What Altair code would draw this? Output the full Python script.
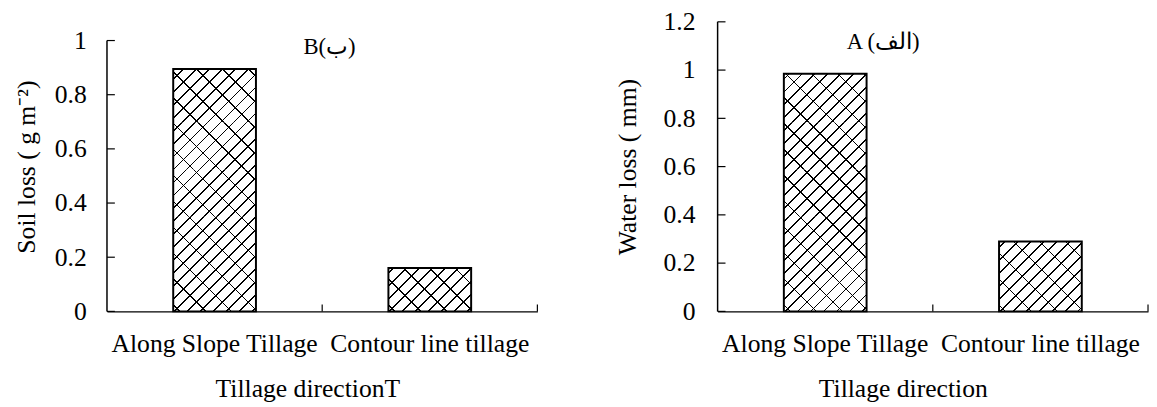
import math
import altair as alt
import pandas as pd

FONT = "'Liberation Serif', 'Times New Roman', serif"

categories = ["Along Slope Tillage", "Contour line tillage"]
soil_loss = [0.895, 0.16]
water_loss = [0.985, 0.29]
soil_ticks = [0, 0.2, 0.4, 0.6, 0.8, 1]
water_ticks = [0, 0.2, 0.4, 0.6, 0.8, 1, 1.2]

PLOT_W = 437
PLOT_H = 294
BAR_W = 84
SEG = 48                    # hatch painted in slices of this many pixels
P1 = 9.3 * math.sqrt(2)     # "/" line period along x+y (px)
P2 = 18.6 * math.sqrt(2)    # "\" line period along x+y (px)


def stripes(w, h, period, lw, direction, fg, bg, phase_px):
    """Linear gradient drawing 45-degree lines across a w x h box."""
    k = (w + h) / (w * w + h * h)
    if direction == "/":
        x1, y1, x2, y2 = 0, 0, k * w, k * h
    else:
        x1, y1, x2, y2 = 0, 1, k * w, 1 - k * h
    total = w + h
    lwt = lw * math.sqrt(2)
    stops = [{"offset": 0, "color": bg}]
    s = (phase_px % period) - period
    last = 0.0
    while s < total:
        a = max(s, 0.0) / total
        b = min(s + lwt, total) / total
        if b > 0 and b > a:
            a = round(max(a, last), 5)
            b = round(b, 5)
            stops += [
                {"offset": a, "color": bg},
                {"offset": a, "color": fg},
                {"offset": b, "color": fg},
                {"offset": b, "color": bg},
            ]
            last = b
        s += period
    stops.append({"offset": 1, "color": bg})
    return {"gradient": "linear", "x1": x1, "y1": y1, "x2": round(x2, 5),
            "y2": round(y2, 5), "stops": stops}


def panel(values, ticks, y_top, ppu, y_title, x_title, label, label_x,
          label_y, label_pad, y_title_pad, x_title_x):
    df = pd.DataFrame({"cat": categories, "val": values})
    tdf = pd.DataFrame({"v": ticks})
    y_scale = alt.Scale(domain=[0, y_top], nice=False, zero=True)
    x_scale = alt.Scale(paddingInner=0, paddingOuter=0)
    x_axis = alt.Axis(title=x_title, labelAngle=0, ticks=False, tickSize=0,
                      labelPadding=20, labelOverlap=False, labelLimit=0,
                      titlePadding=19, titleX=x_title_x, grid=False)
    y_axis = alt.Axis(title=y_title, values=ticks, format="~g", domain=False,
                      ticks=False, tickSize=0, grid=False,
                      labelPadding=label_pad, titlePadding=y_title_pad)
    x_enc = alt.X("cat:N", sort=categories, scale=x_scale, axis=x_axis)
    y_enc = alt.Y("val:Q", scale=y_scale, axis=y_axis)

    layers = []
    for cat, val in zip(categories, values):
        top_px = val * ppu
        bounds = []
        b = 0.0
        while b < top_px - 0.5:
            bounds.append((b, min(b + SEG, top_px)))
            b += SEG
        for b0, b1 in bounds:
            h = b1 - b0
            g1 = stripes(BAR_W, h, P1, 1.3, "/", "#000000", "#ffffff", b1)
            g2 = stripes(BAR_W, h, P2, 1.0, "\\", "#000000",
                         "rgba(255,255,255,0)", -b0 + 6)
            sub = (
                alt.Chart(df)
                .transform_filter(alt.datum.cat == cat)
                .transform_calculate(lo=f"{b0 / ppu}",
                                     hi=f"min(datum.val, {b1 / ppu})")
            )
            for g in (g1, g2):
                layers.append(
                    sub.mark_bar(size=BAR_W, fill=g).encode(
                        x=x_enc,
                        y=alt.Y("lo:Q", scale=y_scale, axis=y_axis),
                        y2="hi:Q",
                    )
                )
    # bar outlines
    layers.append(
        alt.Chart(df).mark_bar(size=BAR_W, fill="transparent", stroke="black",
                               strokeWidth=2).encode(x=x_enc, y=y_enc)
    )
    # y axis line from the lowest to the highest tick value
    layers.append(
        alt.Chart(tdf).mark_rule(color="black", strokeWidth=1.5).encode(
            y=alt.Y("min(v):Q", scale=y_scale, axis=y_axis),
            y2=alt.Y2("max(v)"),
            x=alt.value(0),
        )
    )
    # inward y ticks
    layers.append(
        alt.Chart(tdf).mark_rule(color="black", strokeWidth=1.2).encode(
            y=alt.Y("v:Q", scale=y_scale, axis=y_axis),
            x=alt.value(0),
            x2=alt.value(8),
        )
    )
    # inward x ticks at the category boundaries
    layers.append(
        alt.Chart(df).mark_rule(color="black", strokeWidth=1.2).encode(
            x=alt.X("cat:N", sort=categories, scale=x_scale, axis=x_axis,
                    bandPosition=1),
            y=alt.value(PLOT_H),
            y2=alt.value(PLOT_H - 7),
        )
    )
    # panel label inside the plot
    layers.append(
        alt.Chart(pd.DataFrame({"t": [label]})).mark_text(
            font=FONT, fontSize=23, color="black", align="center",
            baseline="alphabetic",
        ).encode(text="t:N", x=alt.value(label_x), y=alt.value(label_y))
    )
    return alt.layer(*layers).properties(width=PLOT_W, height=PLOT_H)


left = panel(soil_loss, soil_ticks, PLOT_H / 275.0, 275.0,
             "Soil loss ( g m\u207b\u00b2)", "Tillage directionT",
             "B(\u0628)", 226, 33, 21, 15, 203.5)
right = panel(water_loss, water_ticks, 1.2, 245.0,
              "Water loss ( mm)", "Tillage direction",
              "A (\u0627\u0644\u0641)", 168, 28, 23, 22.5, 188)

chart = (
    alt.hconcat(left, right, spacing=183, bounds="flush")
    .properties(padding={"left": 5.5, "top": -2, "right": 0, "bottom": 0})
    .configure_view(stroke=None)
    .configure_axis(labelFont=FONT, titleFont=FONT, labelFontSize=26,
                    titleFontSize=26, labelColor="black", titleColor="black",
                    titleFontWeight="normal", domainColor="black",
                    domainWidth=1.5)
)

chart.save("out.html", embed_options={"renderer": "svg", "actions": False})
